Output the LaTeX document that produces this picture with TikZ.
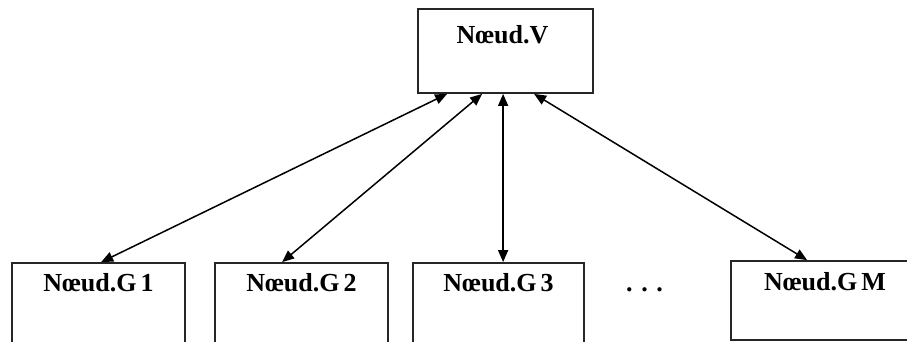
\documentclass[tikz,border=0pt]{standalone}
\usepackage{fontspec}
\setmainfont{Liberation Serif}
\usetikzlibrary{arrows.meta}
\newcommand{\gsp}{\hspace{0.15em}}
\begin{document}
\begin{tikzpicture}[x=1pt,y=-1pt,
  box/.style={draw=black!85, line width=1.8pt, fill=white, rectangle, inner sep=0pt},
  lab/.style={font=\bfseries\fontsize{26}{30}\selectfont, inner sep=0pt, anchor=north},
  link/.style={line width=1.5pt, {Triangle[length=12pt,width=10pt]}-{Triangle[length=12pt,width=10pt]}}]
\useasboundingbox (0,0) rectangle (907,342);
\clip (0,0) rectangle (907,342);
\node[box, minimum width=175pt, minimum height=84pt,
  label={[lab, xshift=-3pt, yshift=-17pt]north:Nœud.V}] (V) at (505.5,51) {};
\node[box, minimum width=173pt, minimum height=84pt,
  label={[lab, yshift=-11pt]north:Nœud.G\gsp 1}] (G1) at (98.5,305) {};
\node[box, minimum width=173pt, minimum height=84pt,
  label={[lab, yshift=-11pt]north:Nœud.G\gsp 2}] (G2) at (301.5,305) {};
\node[box, minimum width=171pt, minimum height=84pt,
  label={[lab, yshift=-11pt]north:Nœud.G\gsp 3}] (G3) at (498.5,305) {};
\node[box, minimum width=181pt, minimum height=79pt,
  label={[lab, xshift=3.5pt, yshift=-12pt]north:Nœud.G\gsp M}] (GM) at (821.5,300.5) {};
\node[font=\bfseries\fontsize{26}{30}\selectfont, inner sep=0pt] (dots) at (644.5,290) {. . .};
\draw[link] ([xshift=30pt]V.south west) -- ([xshift=90pt]G1.north west);
\draw[link] ([xshift=65pt]V.south west) -- ([xshift=68pt]G2.north west);
\draw[link] ([xshift=86pt]V.south west) -- ([xshift=91pt]G3.north west);
\draw[link] ([xshift=117pt]V.south west) -- ([xshift=77pt]GM.north west);
\end{tikzpicture}
\end{document}
